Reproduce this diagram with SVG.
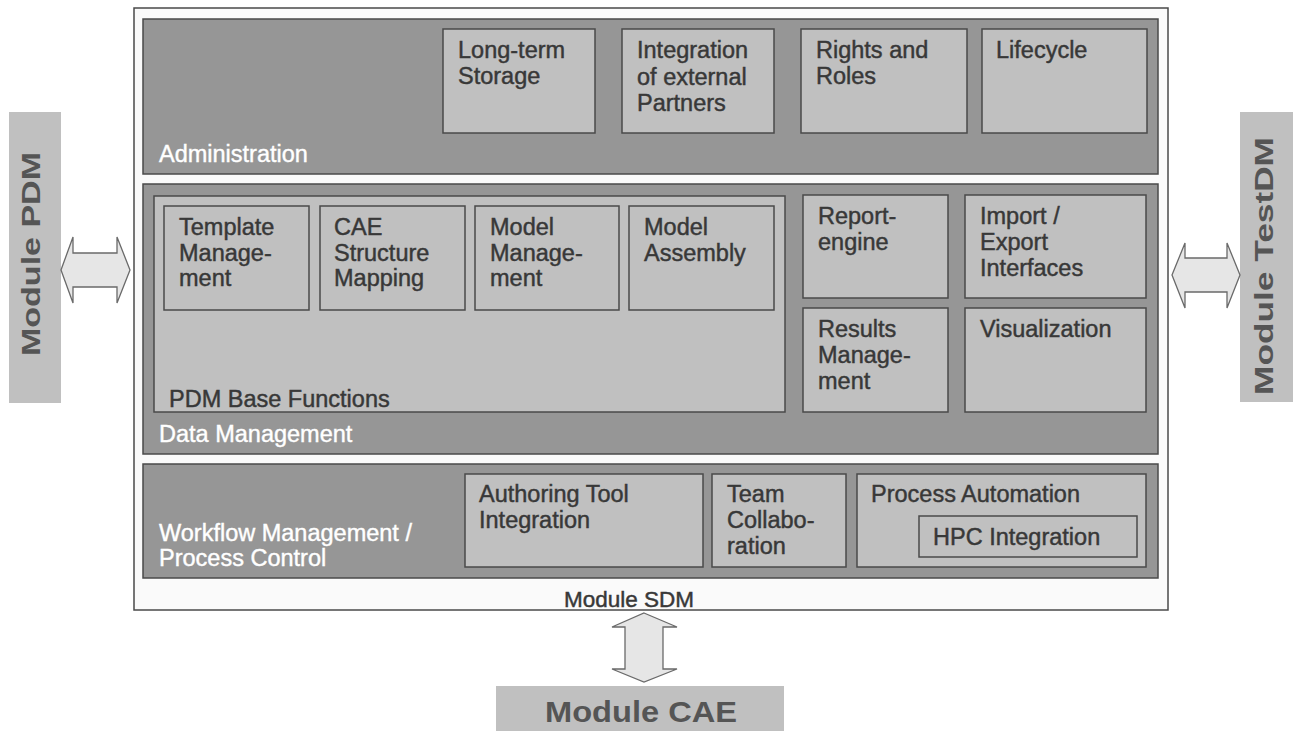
<svg xmlns="http://www.w3.org/2000/svg" width="1297" height="731" viewBox="0 0 1297 731">
<style>
.band{fill:#969696;stroke:#4a4a4a;stroke-width:1.5}
.box{fill:#c0c0c0;stroke:#4a4a4a;stroke-width:1.5}
.t{font-family:"Liberation Sans",Arial,sans-serif;font-size:23.5px;fill:#383838;stroke:#383838;stroke-width:0.45}
.w{font-family:"Liberation Sans",Arial,sans-serif;font-size:23.5px;fill:#ffffff;stroke:#ffffff;stroke-width:0.4}
.mod{fill:#c0c0c0}
.mt{font-family:"Liberation Sans",Arial,sans-serif;font-weight:bold;fill:#555555}
.arr{fill:#e6e6e6;stroke:#6a6a6a;stroke-width:1.3}
</style>
<rect width="1297" height="731" fill="#ffffff"/>
<g id="sdm">
<rect x="134" y="8" width="1034" height="602" fill="#fafafa" stroke="#4a4a4a" stroke-width="1.5"/>
<text class="t" x="629" y="607" text-anchor="middle" style="font-size:22.5px">Module SDM</text>
</g>
<g id="administration">
<rect class="band" x="143" y="19" width="1015" height="155"/>
<text class="w" x="159" y="162">Administration</text>
</g>
<g id="longterm">
<rect class="box" x="443" y="29" width="152" height="104"/>
<text class="t" x="458" y="58">Long-term<tspan x="458" dy="26">Storage</tspan></text>
</g>
<g id="integration">
<rect class="box" x="622" y="29" width="152" height="104"/>
<text class="t" x="637" y="58">Integration<tspan x="637" dy="26.5">of external</tspan><tspan x="637" dy="26.5">Partners</tspan></text>
</g>
<g id="rights">
<rect class="box" x="801" y="29" width="166" height="104"/>
<text class="t" x="816" y="58">Rights and<tspan x="816" dy="26">Roles</tspan></text>
</g>
<g id="lifecycle">
<rect class="box" x="982" y="29" width="165" height="104"/>
<text class="t" x="996" y="58">Lifecycle</text>
</g>
<g id="datamanagement">
<rect class="band" x="143" y="184" width="1015" height="270"/>
<text class="w" x="159" y="442">Data Management</text>
</g>
<g id="pdmbase">
<rect class="box" x="154" y="196" width="631" height="216"/>
<text class="t" x="169" y="407">PDM Base Functions</text>
</g>
<g id="template">
<rect class="box" x="164" y="206" width="145" height="104"/>
<text class="t" x="179" y="235">Template<tspan x="179" dy="25.5">Manage-</tspan><tspan x="179" dy="25.5">ment</tspan></text>
</g>
<g id="caestructure">
<rect class="box" x="320" y="206" width="145" height="104"/>
<text class="t" x="334" y="235">CAE<tspan x="334" dy="25.5">Structure</tspan><tspan x="334" dy="25.5">Mapping</tspan></text>
</g>
<g id="modelmgmt">
<rect class="box" x="475" y="206" width="144" height="104"/>
<text class="t" x="490" y="235">Model<tspan x="490" dy="25.5">Manage-</tspan><tspan x="490" dy="25.5">ment</tspan></text>
</g>
<g id="modelassembly">
<rect class="box" x="629" y="206" width="145" height="104"/>
<text class="t" x="644" y="235">Model<tspan x="644" dy="25.5">Assembly</tspan></text>
</g>
<g id="reportengine">
<rect class="box" x="803" y="195" width="145" height="103"/>
<text class="t" x="818" y="224">Report-<tspan x="818" dy="26">engine</tspan></text>
</g>
<g id="importexport">
<rect class="box" x="965" y="195" width="181" height="103"/>
<text class="t" x="980" y="224">Import /<tspan x="980" dy="26">Export</tspan><tspan x="980" dy="26">Interfaces</tspan></text>
</g>
<g id="results">
<rect class="box" x="803" y="308" width="145" height="104"/>
<text class="t" x="818" y="337">Results<tspan x="818" dy="26">Manage-</tspan><tspan x="818" dy="26">ment</tspan></text>
</g>
<g id="visualization">
<rect class="box" x="965" y="308" width="181" height="104"/>
<text class="t" x="980" y="337">Visualization</text>
</g>
<g id="workflow">
<rect class="band" x="143" y="464" width="1015" height="114"/>
<text class="w" x="159" y="541">Workflow Management /<tspan x="159" dy="24.5">Process Control</tspan></text>
</g>
<g id="authoring">
<rect class="box" x="465" y="474" width="238" height="93"/>
<text class="t" x="479" y="502">Authoring Tool<tspan x="479" dy="26">Integration</tspan></text>
</g>
<g id="team">
<rect class="box" x="712" y="474" width="134" height="93"/>
<text class="t" x="727" y="502">Team<tspan x="727" dy="26">Collabo-</tspan><tspan x="727" dy="26">ration</tspan></text>
</g>
<g id="processautomation">
<rect class="box" x="857" y="474" width="289" height="93"/>
<text class="t" x="871" y="502">Process Automation</text>
</g>
<g id="hpc">
<rect class="box" x="919" y="516" width="218" height="41"/>
<text class="t" x="933" y="545">HPC Integration</text>
</g>
<g id="modulepdm">
<rect class="mod" x="9" y="112" width="52" height="291"/>
<text class="mt" transform="translate(40,254) rotate(-90)" text-anchor="middle" font-size="25" textLength="204" lengthAdjust="spacingAndGlyphs">Module PDM</text>
</g>
<g id="moduletestdm">
<rect class="mod" x="1240" y="112" width="53" height="290"/>
<text class="mt" transform="translate(1273,266) rotate(-90)" text-anchor="middle" font-size="25" textLength="258" lengthAdjust="spacingAndGlyphs">Module TestDM</text>
</g>
<g id="modulecae">
<rect class="mod" x="496" y="686" width="288" height="45"/>
<text class="mt" x="641" y="722" text-anchor="middle" font-size="30" textLength="192" lengthAdjust="spacingAndGlyphs">Module CAE</text>
</g>
<g id="connectors">
<polygon class="arr" points="61,270 73,237 73,253 117,253 117,237 130,270 117,303 117,287 73,287 73,303"/>
<polygon class="arr" points="1172,275 1185,243 1185,258 1227,258 1227,243 1240,275 1227,308 1227,292 1185,292 1185,308"/>
<polygon class="arr" points="644,613 677,627 663,627 663,669 677,669 644,682 612,669 625,669 625,627 612,627"/>
</g>
</svg>
